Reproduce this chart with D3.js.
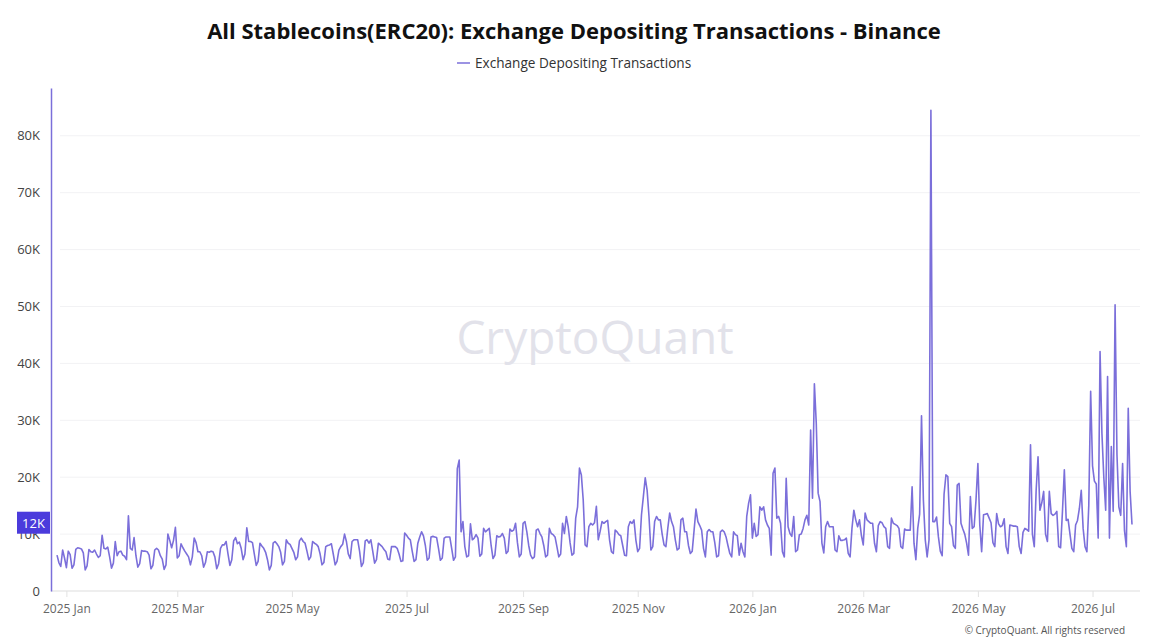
<!DOCTYPE html>
<html>
<head>
<meta charset="utf-8">
<script src="https://cdn.jsdelivr.net/npm/d3@7"></script>
<style>
  body { margin: 0; background: #fff; }
  svg { display: block; font-family: "Open Sans", "Noto Sans", sans-serif; }
</style>
</head>
<body>
<svg id="chart" width="1150" height="644"></svg>
<script>
// daily values, one array per month
const dec24 = [6300, 5000, 4300, 7200, 5800];
const jan25 = [4100, 7000, 6400, 4000, 4600, 7300, 7600, 7500, 7400, 6700, 3700, 4400, 7300, 6900, 6800, 7200, 6500, 5900, 6200, 9800, 7500, 7400, 7700, 6000, 4000, 4900, 8700, 6200, 6900, 7000, 6300];
const feb25 = [6100, 5500, 13200, 7500, 7200, 9400, 6200, 4200, 4800, 7100, 7000, 7000, 6900, 6300, 3900, 4500, 7200, 7500, 7200, 6200, 5600, 3800, 4600, 10000, 8900, 7600, 8900, 11200];
const mar25 = [5800, 6200, 8300, 7600, 7000, 6500, 6000, 4600, 6000, 9300, 8500, 6900, 6900, 6200, 4200, 5000, 6900, 6800, 7000, 6900, 6000, 3900, 4800, 7500, 8100, 8100, 8700, 6500, 4500, 5500, 8800];
const apr25 = [9400, 8300, 8600, 7500, 5500, 6500, 11100, 8700, 8700, 8500, 6500, 4500, 5200, 8400, 7900, 7500, 6800, 5500, 3700, 4500, 8400, 8700, 8300, 7800, 6800, 4600, 5200, 9000, 8400, 8200];
const may25 = [7500, 6800, 5500, 6000, 8800, 9300, 8700, 8400, 7000, 5500, 6000, 8700, 8400, 8200, 7800, 6500, 4600, 5000, 7800, 8000, 8100, 8300, 6500, 4600, 5200, 7200, 7800, 8200, 10000, 8700, 6500];
const jun25 = [5700, 8700, 9000, 9000, 9000, 7000, 4300, 5000, 8800, 9000, 8400, 9000, 7000, 4900, 5500, 8400, 8100, 7800, 7300, 6900, 5600, 5500, 7800, 7800, 7800, 7500, 6500, 5200, 5300, 10200];
const jul25 = [9800, 9300, 9000, 7000, 5200, 5500, 8400, 9500, 10400, 9700, 8000, 5400, 5800, 9500, 9600, 9500, 9400, 7500, 5400, 5800, 9300, 9500, 9500, 9500, 7500, 5400, 6000, 21500, 23000, 10400, 12200];
const aug25 = [7800, 6000, 6200, 11800, 9000, 9300, 9900, 9300, 6100, 6500, 11000, 10400, 10700, 11000, 8000, 5700, 6300, 9700, 9500, 9600, 10100, 9300, 6600, 7000, 10900, 10500, 10700, 11900, 8500, 6000, 6500];
const sep25 = [11900, 12200, 10400, 8000, 6300, 5700, 6000, 10700, 10900, 10100, 9500, 8000, 6000, 6300, 11000, 10100, 9900, 9500, 7800, 6000, 6500, 11900, 10100, 13100, 11300, 8500, 6300, 6600, 12800, 14800];
const oct25 = [21600, 20400, 16000, 8100, 7800, 11300, 11900, 11600, 12000, 14900, 9000, 10500, 12200, 11900, 12200, 12400, 9000, 6900, 6600, 10700, 10400, 9900, 9700, 8000, 6300, 6200, 11300, 12200, 11900, 12500, 9000];
const nov25 = [6900, 7500, 13400, 16600, 19900, 17700, 13100, 7200, 7800, 12200, 13100, 12500, 12500, 10000, 8100, 7800, 11000, 13700, 12200, 11300, 9000, 7200, 7500, 12500, 12800, 10400, 10400, 8000, 6600, 7000];
const dec25 = [10700, 14400, 12200, 11500, 10700, 7500, 6000, 10400, 10800, 10400, 10400, 8500, 6000, 6200, 10400, 10700, 10400, 9500, 8000, 6600, 6000, 10400, 9900, 9700, 6300, 8400, 6900, 6000, 13100, 15400, 16900];
const jan26 = [9300, 11900, 9600, 9900, 14800, 14200, 14800, 12500, 11600, 11000, 6300, 20700, 21600, 12800, 13100, 11900, 6900, 6000, 19800, 11300, 10100, 9600, 13100, 6900, 7200, 9900, 10000, 11000, 12500, 13300, 11600];
const feb26 = [28300, 16300, 36400, 29500, 17200, 15700, 8400, 6700, 11300, 12200, 11300, 11300, 11300, 7200, 6900, 9700, 8900, 8900, 9000, 9300, 6600, 6000, 11000, 14200, 12500, 11300, 12500, 9800];
const mar26 = [8100, 13700, 12500, 12200, 11900, 11900, 8400, 6900, 11500, 12200, 12000, 11300, 11000, 7800, 7500, 12800, 11900, 11700, 11500, 11000, 7800, 7500, 10900, 10700, 10700, 10700, 18300, 8400, 5500, 11000, 13500];
const apr26 = [30800, 16000, 9000, 6000, 9000, 84500, 12200, 12200, 13000, 9500, 7000, 6200, 17000, 20400, 20100, 11900, 11300, 8000, 7500, 18600, 18900, 11900, 10900, 10000, 8400, 6300, 16600, 11000, 11300, 16000];
const may26 = [22400, 11600, 6900, 13400, 13500, 13600, 12800, 12000, 8500, 7800, 13600, 11800, 11300, 11500, 12700, 7800, 6600, 11600, 11500, 11400, 11400, 11300, 7800, 6600, 10300, 11000, 10800, 10500, 25700, 10000, 7800];
const jun26 = [17700, 23600, 14200, 15500, 17500, 10000, 8700, 17500, 13600, 13300, 13500, 14000, 7800, 7600, 14000, 21300, 12400, 12600, 10000, 7500, 6900, 11600, 12400, 14500, 17700, 11000, 7800, 6900, 15000, 35100];
const jul26 = [22000, 19300, 18800, 9300, 42100, 27700, 20000, 14200, 37700, 9300, 25400, 14000, 50300, 24000, 14800, 13300, 22400, 10600, 7800, 32100, 17500, 11700];

const monthStarts = [
  ["2024-12-27", dec24], ["2025-01-01", jan25], ["2025-02-01", feb25], ["2025-03-01", mar25],
  ["2025-04-01", apr25], ["2025-05-01", may25], ["2025-06-01", jun25], ["2025-07-01", jul25],
  ["2025-08-01", aug25], ["2025-09-01", sep25], ["2025-10-01", oct25], ["2025-11-01", nov25],
  ["2025-12-01", dec25], ["2026-01-01", jan26], ["2026-02-01", feb26], ["2026-03-01", mar26],
  ["2026-04-01", apr26], ["2026-05-01", may26], ["2026-06-01", jun26], ["2026-07-01", jul26]
];

const yTicks = [0, 10000, 20000, 30000, 40000, 50000, 60000, 70000, 80000];
const lastLabel = "12K";

const parse = d3.timeParse("%Y-%m-%d");
const data = monthStarts.flatMap(([start, vals]) =>
  vals.map((v, i) => ({ date: d3.timeDay.offset(parse(start), i), value: v })));

const lineColor = "#7b6fda";
const svg = d3.select("#chart");

const x = d3.scaleTime()
  .domain(d3.extent(data, d => d.date))
  .range([57, 1132]);

const y = d3.scaleLinear()
  .domain([0, 88400])
  .range([591, 88]);

// title + legend
svg.append("text")
  .attr("x", 574).attr("y", 39)
  .attr("text-anchor", "middle")
  .attr("font-size", 22).attr("font-weight", 700)
  .attr("fill", "#111")
  .text("All Stablecoins(ERC20): Exchange Depositing Transactions - Binance");

svg.append("line")
  .attr("x1", 457).attr("x2", 470).attr("y1", 63).attr("y2", 63)
  .attr("stroke", lineColor).attr("stroke-width", 1.5);
svg.append("text")
  .attr("x", 475).attr("y", 68)
  .attr("font-size", 13.6).attr("fill", "#333")
  .text("Exchange Depositing Transactions");

// grid
svg.append("g")
  .selectAll("line")
  .data(yTicks.slice(1))
  .join("line")
  .attr("x1", 60).attr("x2", 1140)
  .attr("y1", d => y(d)).attr("y2", d => y(d))
  .attr("stroke", "#f2f2f4");

// watermark
svg.append("text")
  .attr("x", 595).attr("y", 354)
  .attr("text-anchor", "middle")
  .attr("font-size", 46)
  .attr("fill", "#e2e2ea")
  .text("CryptoQuant");

// x axis
const xAxis = svg.append("g")
  .attr("transform", "translate(0,591)")
  .call(d3.axisBottom(x)
    .ticks(d3.timeMonth.every(2))
    .tickFormat(d3.timeFormat("%Y %b"))
    .tickSize(6).tickSizeOuter(0));
xAxis.select(".domain").attr("stroke", "#ddd").attr("d", "M51,0H1140");
xAxis.selectAll(".tick line").attr("stroke", "#e2e2e2");
xAxis.selectAll(".tick text")
  .attr("dy", "1.1em")
  .attr("font-size", 12).attr("fill", "#666")
  .attr("font-family", "Open Sans, sans-serif");

// y axis
const yAxis = svg.append("g")
  .attr("transform", "translate(51,0)")
  .call(d3.axisLeft(y)
    .tickValues(yTicks)
    .tickFormat(d => d === 0 ? "0" : d / 1000 + "K")
    .tickSize(0).tickPadding(11));
yAxis.select(".domain").attr("stroke", lineColor).attr("stroke-width", 1.5);
yAxis.selectAll(".tick text")
  .attr("font-size", 13).attr("fill", "#444")
  .attr("font-family", "Open Sans, sans-serif");

// series
svg.append("path")
  .datum(data)
  .attr("fill", "none")
  .attr("stroke", lineColor)
  .attr("stroke-width", 1.6)
  .attr("stroke-linejoin", "round")
  .attr("d", d3.line().x(d => x(d.date)).y(d => y(d.value)));

// last value tag on y axis (sits over the 10K label, as in the source)
const lastY = y(12000);
svg.append("rect")
  .attr("x", 17).attr("y", lastY - 11)
  .attr("width", 33).attr("height", 22)
  .attr("fill", "#4b3bdc");
svg.append("text")
  .attr("x", 33.5).attr("y", lastY + 5)
  .attr("text-anchor", "middle")
  .attr("font-size", 13).attr("fill", "#fff")
  .text(lastLabel);

// credit
svg.append("text")
  .attr("x", 1125).attr("y", 634)
  .attr("text-anchor", "end")
  .attr("font-size", 10).attr("fill", "#555")
  .text("© CryptoQuant. All rights reserved");
</script>
</body>
</html>
